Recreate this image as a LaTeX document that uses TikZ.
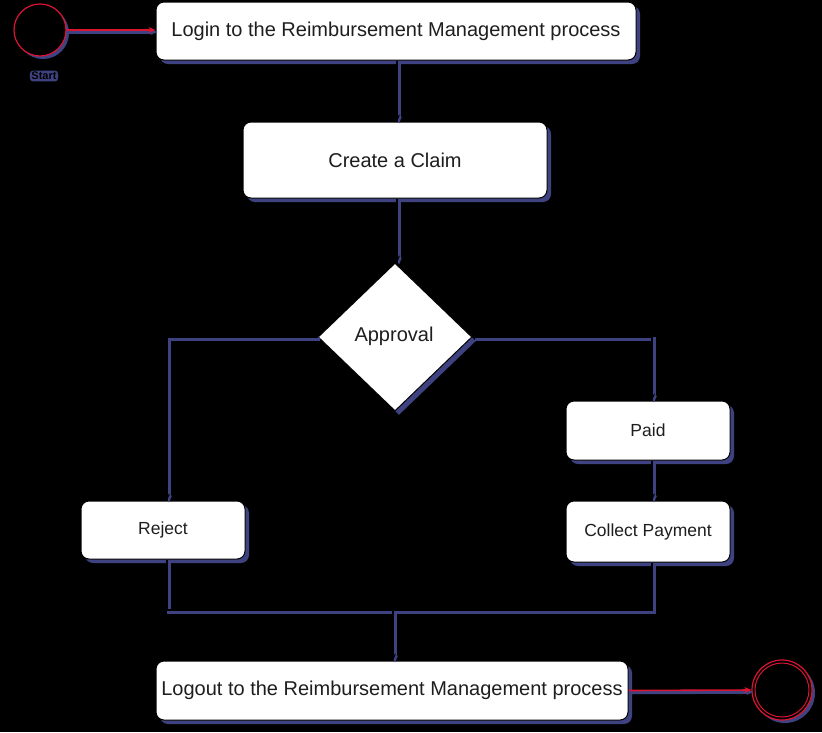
\documentclass[tikz,border=0pt]{standalone}
\usepackage{fontspec}
\setmainfont{Liberation Sans}
\usetikzlibrary{shapes.geometric,shadows,arrows.meta}
\definecolor{shadowc}{RGB}{62,66,128}
\definecolor{txtc}{RGB}{30,30,30}
\definecolor{redc}{RGB}{220,20,50}
\tikzset{
  x=1pt,y=-1pt,
  boxsh/.style={drop shadow={shadow xshift=4pt,shadow yshift=-4pt,fill=shadowc,opacity=1}},
  actbox/.style={draw=black,line width=1pt,fill=white,rounded corners=8pt,boxsh,text=txtc,inner sep=0pt,align=center},
  bigtxt/.style={font=\fontsize{20}{22}\selectfont},
  smalltxt/.style={font=\fontsize{17.5}{20}\selectfont},
  conn/.style={draw=black,line width=1.6pt,
    preaction={draw=shadowc,line width=3.5pt,transform canvas={shift={(2pt,-2pt)}}}},
  redconn/.style={draw=redc,line width=1.6pt,
    preaction={draw=shadowc,line width=3.5pt,transform canvas={shift={(2pt,-2pt)}}}},
  tip/.style={-{Stealth[length=7pt,width=6pt]}},
}
\begin{document}
\begin{tikzpicture}
\useasboundingbox[fill=black] (0,0) rectangle (822,732);
% nodes
\node[actbox,minimum width=480pt,minimum height=58pt,bigtxt] (login) at (396,31) {Login to the Reimbursement Management process};
\node[actbox,minimum width=304pt,minimum height=76pt,bigtxt] (claim) at (395,160) {Create a Claim};
\node[diamond,draw=black,line width=1pt,fill=white,boxsh,text=txtc,inner sep=0pt,minimum width=154pt,minimum height=148pt] (appr) at (395,337) {};
\node[text=txtc,bigtxt] (apprlbl) at (394,336) {Approval};
\node[actbox,minimum width=164pt,minimum height=59pt,smalltxt] (paid) at (648,430.5) {Paid};
\node[actbox,minimum width=164pt,minimum height=61pt,smalltxt] (collect) at (648,531.5) {Collect Payment};
\node[actbox,minimum width=164pt,minimum height=58pt,smalltxt] (reject) at (163,530) {Reject};
\node[actbox,minimum width=472pt,minimum height=59pt,bigtxt] (logout) at (392,690.5) {Logout to the Reimbursement Management process};
% start / end
\node[circle,draw=redc,line width=1.2pt,fill=black,minimum size=52pt,inner sep=0pt,
  drop shadow={shadow xshift=3pt,shadow yshift=-3pt,fill=shadowc,opacity=1}] (start) at (40,30) {};
\node[fill=shadowc,rounded corners=3pt,inner xsep=1.5pt,inner ysep=1.5pt,text=black,font=\fontsize{11}{12}\selectfont\bfseries] (startlbl) at (44,76) {Start};
\node[circle,draw=redc,line width=1.2pt,fill=black,minimum size=60pt,inner sep=0pt,
  drop shadow={shadow xshift=3pt,shadow yshift=-3pt,fill=shadowc,opacity=1}] (end) at (782,690) {};
\node[circle,draw=redc,line width=1pt,minimum size=54pt,inner sep=0pt] (endin) at (782,690) {};
% junction coordinates
\coordinate (jl) at (167,337);
\coordinate (jr) at (652,337);
\coordinate (jrej) at (167,610);
\coordinate (jcol) at (652,610);
\coordinate (jmid) at (393,610);
\coordinate (cx) at (397,0);
% connectors
\draw[redconn,tip] (start.east) -- (start.east -| login.west);
\draw[conn,tip] (login.south -| cx) -- (claim.north -| cx);
\draw[conn,tip] (claim.south -| cx) -- (appr.north -| cx);
\draw[conn,tip] (appr.west) -- (jl) -- (reject.north -| jl);
\draw[conn,tip] (appr.east) -- (jr) -- (paid.north -| jr);
\draw[conn,tip] (paid.south -| jr) -- (collect.north -| jr);
\draw[conn] (reject.south -| jrej) -- (jrej) -- (jmid);
\draw[conn] (collect.south -| jcol) -- (jcol) -- (jmid);
\draw[conn,tip] (jmid) -- (logout.north -| jmid);
\draw[redconn,tip] (logout.east) -- (end.west);
\end{tikzpicture}
\end{document}
